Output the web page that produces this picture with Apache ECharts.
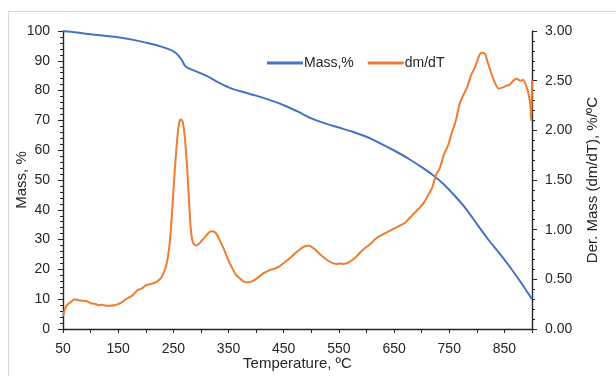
<!DOCTYPE html>
<html>
<head>
<meta charset="utf-8">
<script src="https://cdn.jsdelivr.net/npm/echarts@6/dist/echarts.min.js"></script>
<style>
html,body{margin:0;padding:0;background:#fff;}
#frame{position:absolute;left:8px;top:11px;width:620px;height:380px;border:1px solid #d9d9d9;box-sizing:border-box;}
#chart{position:absolute;left:0;top:0;width:616px;height:376px;}
</style>
</head>
<body>
<div id="frame"></div>
<div id="chart"></div>
<script>
// Mass curve (left axis)
const massTemp = [50, 75, 100, 125, 150, 175, 200, 220, 240, 250, 258, 264, 268, 272, 280, 300, 315, 330, 350, 375, 400, 425, 450, 475, 500, 525, 550, 575, 600, 625, 650, 675, 700, 720, 740, 760, 780, 800, 820, 840, 860, 880, 900];
const massVal  = [100, 99.5, 98.9, 98.4, 97.9, 97.1, 96.1, 95.2, 94.0, 93.2, 92.0, 90.6, 89.3, 88.2, 87.3, 85.8, 84.5, 82.9, 81.1, 79.6, 78.3, 76.8, 75.1, 73.0, 70.7, 69.0, 67.6, 66.2, 64.5, 62.3, 59.9, 57.3, 54.3, 51.7, 48.6, 44.7, 40.4, 35.3, 30.2, 25.6, 20.8, 15.6, 10.0];
// Derivative curve (right axis)
const dmTemp = [50, 53, 57, 64, 71, 78, 86, 93, 100, 107, 114, 121, 128, 135, 143, 150, 157, 164, 171, 178, 185, 193, 200, 207, 214, 221, 227, 232, 236, 240, 244, 248, 252, 256, 260, 263, 266, 269, 272, 275, 278, 281, 284, 288, 292, 297, 303, 308, 314, 319, 324, 329, 335, 342, 349, 356, 363, 370, 377, 385, 392, 399, 406, 413, 420, 428, 435, 442, 449, 456, 463, 470, 477, 484, 490, 496, 502, 509, 516, 523, 530, 538, 545, 552, 559, 566, 573, 580, 587, 594, 601, 608, 615, 622, 629, 636, 643, 650, 657, 664, 670, 677, 684, 691, 698, 705, 712, 719, 726, 733, 740, 748, 755, 762, 769, 776, 783, 790, 797, 802, 806, 810, 815, 820, 826, 832, 839, 846, 854, 860, 866, 872, 879, 884, 890, 894, 897, 898, 899, 900];
const dmVal  = [0.13, 0.19, 0.24, 0.27, 0.30, 0.29, 0.285, 0.28, 0.26, 0.255, 0.24, 0.245, 0.235, 0.235, 0.24, 0.25, 0.27, 0.30, 0.32, 0.35, 0.39, 0.41, 0.44, 0.45, 0.46, 0.48, 0.51, 0.56, 0.62, 0.72, 0.90, 1.20, 1.55, 1.85, 2.06, 2.11, 2.10, 2.02, 1.85, 1.62, 1.33, 1.05, 0.90, 0.85, 0.84, 0.86, 0.90, 0.93, 0.97, 0.985, 0.98, 0.95, 0.88, 0.80, 0.70, 0.62, 0.55, 0.51, 0.48, 0.47, 0.48, 0.50, 0.53, 0.56, 0.58, 0.60, 0.61, 0.63, 0.66, 0.69, 0.72, 0.76, 0.79, 0.82, 0.835, 0.84, 0.82, 0.79, 0.75, 0.72, 0.69, 0.665, 0.655, 0.66, 0.655, 0.665, 0.69, 0.72, 0.76, 0.80, 0.83, 0.86, 0.90, 0.93, 0.95, 0.97, 0.99, 1.01, 1.03, 1.05, 1.07, 1.11, 1.15, 1.19, 1.23, 1.28, 1.35, 1.42, 1.55, 1.62, 1.75, 1.85, 1.98, 2.10, 2.27, 2.36, 2.44, 2.56, 2.64, 2.72, 2.77, 2.78, 2.77, 2.68, 2.58, 2.49, 2.42, 2.43, 2.45, 2.46, 2.50, 2.52, 2.50, 2.51, 2.44, 2.36, 2.25, 2.14, 2.10, 2.51, 2.50];

const massData = massTemp.map((t, i) => [t, massVal[i]]);
const dmData = dmTemp.map((t, i) => [t, dmVal[i]]);

const FONT = 'Liberation Sans';
const TXT = '#262626';
const chart = echarts.init(document.getElementById('chart'), null, {renderer: 'canvas'});
chart.setOption({
  animation: false,
  backgroundColor: 'transparent',
  textStyle: {fontFamily: FONT},
  grid: {left: 63, right: 84, top: 31, bottom: 42, containLabel: false},
  legend: {
    top: 56, left: 267, itemWidth: 36, itemHeight: 3, itemGap: 14, padding: 0,
    textStyle: {fontFamily: FONT, fontSize: 14, color: TXT, padding: [0, 0, 0, -4]},
    data: [{name: 'Mass,%', icon: 'rect'}, {name: 'dm/dT', icon: 'rect'}]
  },
  xAxis: {
    type: 'value', min: 50, max: 900, interval: 50,
    name: 'Temperature, ºC', nameLocation: 'middle', nameGap: 27, nameMoveOverlap: false,
    nameTextStyle: {fontFamily: FONT, fontSize: 15, color: TXT},
    axisLine: {lineStyle: {color: '#262626', width: 1.4}},
    axisTick: {show: true, length: 4, lineStyle: {color: '#262626'}},
    axisLabel: {fontFamily: FONT, fontSize: 14, color: TXT, margin: 13,
      formatter: v => ((v - 50) % 100 === 0 && v < 900) ? String(v) : ''},
    splitLine: {show: false}
  },
  yAxis: [{
    type: 'value', min: 0, max: 100, interval: 10, position: 'left',
    name: 'Mass, %', nameLocation: 'middle', nameGap: 34, nameRotate: 90, nameMoveOverlap: false,
    nameTextStyle: {fontFamily: FONT, fontSize: 15, color: TXT},
    axisLine: {show: true, lineStyle: {color: '#262626', width: 1.4}},
    axisTick: {show: true, length: 5, lineStyle: {color: '#262626'}},
    minorTick: {show: true, splitNumber: 5, length: 3, lineStyle: {color: '#262626'}},
    axisLabel: {fontFamily: FONT, fontSize: 14, color: TXT, margin: 13},
    splitLine: {show: false}
  }, {
    type: 'value', min: 0, max: 3, interval: 0.5, position: 'right',
    name: 'Der. Mass (dm/dT), %/ºC', nameLocation: 'middle', nameGap: 53, nameRotate: 90, nameMoveOverlap: false,
    nameTextStyle: {fontFamily: FONT, fontSize: 15, color: TXT},
    axisLine: {show: true, lineStyle: {color: '#262626', width: 1.4}},
    axisTick: {show: true, length: 5, lineStyle: {color: '#262626'}},
    minorTick: {show: true, splitNumber: 5, length: 3, lineStyle: {color: '#262626'}},
    axisLabel: {fontFamily: FONT, fontSize: 14, color: TXT, margin: 13, formatter: v => v.toFixed(2)},
    splitLine: {show: false}
  }],
  series: [{
    name: 'Mass,%', type: 'line', yAxisIndex: 0, data: massData,
    symbol: 'none', smooth: 0.3, color: '#4472C4',
    lineStyle: {color: '#4472C4', width: 2}
  }, {
    name: 'dm/dT', type: 'line', yAxisIndex: 1, data: dmData,
    symbol: 'none', smooth: 0.2, color: '#ED7D31',
    lineStyle: {color: '#ED7D31', width: 2}
  }]
});
</script>
</body>
</html>
